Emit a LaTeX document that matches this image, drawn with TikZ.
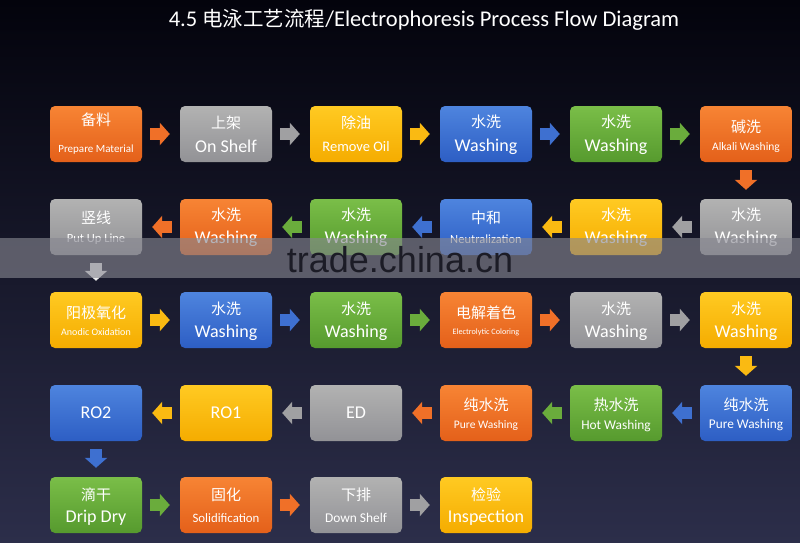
\documentclass[tikz,border=0pt]{standalone}
\usepackage{fontspec}
\setmainfont{Carlito}
\newfontfamily\cjk{Noto Sans CJK SC}
\newfontfamily\wmfont{Liberation Sans}
\usetikzlibrary{arrows.meta}
\definecolor{bgT}{RGB}{3,3,12}
\definecolor{bgB}{RGB}{44,46,74}
\definecolor{orT}{RGB}{247,132,52}
\definecolor{orB}{RGB}{228,96,26}
\definecolor{orA}{RGB}{240,112,40}
\definecolor{grT}{RGB}{178,178,178}
\definecolor{grB}{RGB}{146,146,150}
\definecolor{grA}{RGB}{160,160,162}
\definecolor{yeT}{RGB}{255,202,34}
\definecolor{yeB}{RGB}{245,172,0}
\definecolor{yeA}{RGB}{250,186,18}
\definecolor{blT}{RGB}{78,132,222}
\definecolor{blB}{RGB}{45,94,196}
\definecolor{blA}{RGB}{62,112,208}
\definecolor{gnT}{RGB}{122,190,72}
\definecolor{gnB}{RGB}{86,154,46}
\definecolor{gnA}{RGB}{106,172,60}
\definecolor{bandC}{RGB}{135,135,145}
\definecolor{wmC}{RGB}{28,28,38}
\tikzset{
  box/.style={rectangle, rounded corners=5pt, minimum width=92pt, minimum height=56pt, inner sep=0pt, draw=none},
  cntext/.style={text=white, inner sep=0pt, font=\cjk\fontsize{15}{15}\selectfont},
  entext/.style={text=white, inner sep=0pt},
  flow/.style={line width=12pt, -{Triangle[width=22pt 0,length=10pt 0]}, shorten <=8pt, shorten >=10pt},
  vflow/.style={line width=12pt, -{Triangle[width=22pt 0,length=10pt 0]}, shorten <=8pt, shorten >=9pt},
}
% name, x, y, colour, chinese, english, english size, chinese up-shift, english up-shift
\newcommand\flowbox[9]{%
  \node[box, top color=#4T, bottom color=#4B] (#1) at (#2,#3) {};
  \node[cntext] (#1c) at ([yshift=#8pt]#1.center) {#5};
  \node[entext, font=\fontsize{#7}{#7}\selectfont] (#1e) at ([yshift=#9pt]#1.center) {#6};
}
\newcommand\flowboxone[5]{%
  \node[box, top color=#4T, bottom color=#4B] (#1) at (#2,#3) {};
  \node[entext, font=\fontsize{18}{18}\selectfont] (#1e) at (#1.center) {#5};
}
\begin{document}
\begin{tikzpicture}[x=1pt, y=-1pt]
\useasboundingbox (0,0) rectangle (800,543);
\shade[top color=bgT, bottom color=bgB] (0,0) rectangle (800,543);
\node[text=white, anchor=base, inner sep=0pt, font=\fontsize{22.5}{22.5}\selectfont] (title) at (424,27)
  {4.5 {\cjk\fontsize{20.5}{20.5}\selectfont 电泳工艺流程}/Electrophoresis Process Flow Diagram};

% row 1
\flowbox{a1}{96}{134}{or}{备料}{Prepare Material}{11}{14}{-16}
\flowbox{a2}{226}{134}{gr}{上架}{On Shelf}{18}{11}{-12}
\flowbox{a3}{356}{134}{ye}{除油}{Remove Oil}{14.5}{11}{-13}
\flowbox{a4}{486}{134}{bl}{水洗}{Washing}{18}{12}{-13}
\flowbox{a5}{616}{134}{gn}{水洗}{Washing}{18}{12}{-13}
\flowbox{a6}{746}{134}{or}{碱洗}{Alkali Washing}{11.5}{7}{-13}
% row 2
\flowbox{b6}{746}{227}{gr}{水洗}{Washing}{18}{12}{-12}
\flowbox{b5}{616}{227}{ye}{水洗}{Washing}{18}{12}{-12}
\flowbox{b4}{486}{227}{bl}{中和}{Neutralization}{12.5}{9}{-12}
\flowbox{b3}{356}{227}{gn}{水洗}{Washing}{18}{12}{-12}
\flowbox{b2}{226}{227}{or}{水洗}{Washing}{18}{12}{-12}
\flowbox{b1}{96}{227}{gr}{竖线}{Put Up Line}{12.5}{9}{-12}
% row 3
\flowbox{c1}{96}{320}{ye}{阳极氧化}{Anodic Oxidation}{10}{7}{-12.5}
\flowbox{c2}{226}{320}{bl}{水洗}{Washing}{18}{11.5}{-12.5}
\flowbox{c3}{356}{320}{gn}{水洗}{Washing}{18}{11.5}{-12.5}
\flowbox{c4}{486}{320}{or}{电解着色}{Electrolytic Coloring}{8.2}{7}{-12.5}
\flowbox{c5}{616}{320}{gr}{水洗}{Washing}{18}{11.5}{-12.5}
\flowbox{c6}{746}{320}{ye}{水洗}{Washing}{18}{11.5}{-12.5}
% row 4
\flowbox{d6}{746}{413}{bl}{纯水洗}{Pure Washing}{13.3}{8}{-12.5}
\flowbox{d5}{616}{413}{gn}{热水洗}{Hot Washing}{13.4}{8}{-12.5}
\flowbox{d4}{486}{413}{or}{纯水洗}{Pure Washing}{11.5}{8}{-12.5}
\flowboxone{d3}{356}{413}{gr}{ED}
\flowboxone{d2}{226}{413}{ye}{RO1}
\flowboxone{d1}{96}{413}{bl}{RO2}
% row 5
\flowbox{e1}{96}{505}{gn}{滴干}{Drip Dry}{18}{10}{-13}
\flowbox{e2}{226}{505}{or}{固化}{Solidification}{12.8}{10}{-13}
\flowbox{e3}{356}{505}{gr}{下排}{Down Shelf}{13.4}{10}{-13}
\flowbox{e4}{486}{505}{ye}{检验}{Inspection}{18}{10}{-13}

% connectors row 1
\draw[flow, orA] (a1.east) -- (a2.west);
\draw[flow, grA] (a2.east) -- (a3.west);
\draw[flow, yeA] (a3.east) -- (a4.west);
\draw[flow, blA] (a4.east) -- (a5.west);
\draw[flow, gnA] (a5.east) -- (a6.west);
\draw[vflow, orA] (a6.south) -- (b6.north);
% row 2
\draw[flow, grA] (b6.west) -- (b5.east);
\draw[flow, yeA] (b5.west) -- (b4.east);
\draw[flow, blA] (b4.west) -- (b3.east);
\draw[flow, gnA] (b3.west) -- (b2.east);
\draw[flow, orA] (b2.west) -- (b1.east);
\draw[vflow, white!85!gray, shorten >=11pt] (b1.south) -- (c1.north);
% row 3
\draw[flow, yeA] (c1.east) -- (c2.west);
\draw[flow, blA] (c2.east) -- (c3.west);
\draw[flow, gnA] (c3.east) -- (c4.west);
\draw[flow, orA] (c4.east) -- (c5.west);
\draw[flow, grA] (c5.east) -- (c6.west);
\draw[vflow, yeA] (c6.south) -- (d6.north);
% row 4
\draw[flow, blA] (d6.west) -- (d5.east);
\draw[flow, gnA] (d5.west) -- (d4.east);
\draw[flow, orA] (d4.west) -- (d3.east);
\draw[flow, grA] (d3.west) -- (d2.east);
\draw[flow, yeA] (d2.west) -- (d1.east);
\draw[vflow, blA] (d1.south) -- (e1.north);
% row 5
\draw[flow, gnA] (e1.east) -- (e2.west);
\draw[flow, orA] (e2.east) -- (e3.west);
\draw[flow, grA] (e3.east) -- (e4.west);

% watermark band
\fill[bandC, opacity=0.62] (0,238) rectangle (800,278);
\node[anchor=base, inner sep=0pt, text=wmC, font=\wmfont\fontsize{36}{36}\selectfont] (wm) at (400,272) {trade.china.cn};
\end{tikzpicture}
\end{document}
